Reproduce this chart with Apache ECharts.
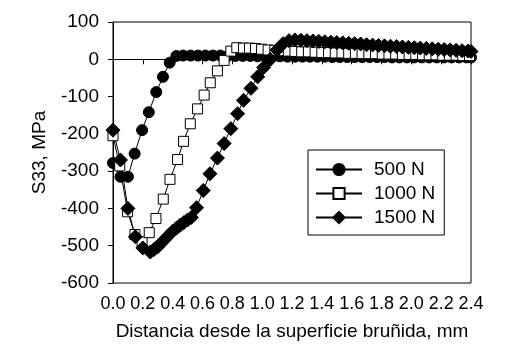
<!DOCTYPE html>
<html>
<head>
<meta charset="utf-8">
<script src="https://cdn.jsdelivr.net/npm/echarts@6/dist/echarts.min.js"></script>
<style>
  html, body { margin: 0; padding: 0; background: #fff; }
  #chart { width: 516px; height: 351px; }
</style>
</head>
<body>
<div id="chart"></div>
<script>
// distance (mm) and S33 (MPa)
var dist500 = [0, 0.05, 0.1, 0.145, 0.195, 0.24, 0.29, 0.335, 0.38, 0.425,
    0.47, 0.52, 0.57, 0.62, 0.67, 0.72, 0.77, 0.82, 0.87, 0.92,
    0.97, 1.02, 1.07, 1.12, 1.17, 1.22, 1.27, 1.32, 1.37, 1.42,
    1.47, 1.52, 1.57, 1.62, 1.67, 1.72, 1.77, 1.82, 1.87, 1.92,
    1.97, 2.02, 2.07, 2.12, 2.17, 2.22, 2.27, 2.32, 2.37, 2.4];
var s500 = [-278, -315, -315, -253, -190, -142, -88, -47, -9, 9,
    10, 10, 10, 10, 10, 10, 9, 9, 9, 9,
    8, 8, 8, 8, 7, 7, 7, 7, 7, 7,
    6, 6, 6, 6, 6, 6, 6, 6, 5, 5,
    5, 5, 5, 5, 5, 5, 5, 5, 5, 5];

var dist1000 = [0, 0.045, 0.098, 0.147, 0.195, 0.243, 0.288, 0.337, 0.382, 0.433,
    0.473, 0.518, 0.567, 0.611, 0.652, 0.7, 0.745, 0.79, 0.83, 0.875,
    0.915, 0.955, 0.996, 1.04, 1.085, 1.13, 1.175, 1.22, 1.265, 1.31,
    1.355, 1.4, 1.445, 1.49, 1.535, 1.58, 1.625, 1.67, 1.715, 1.76,
    1.805, 1.85, 1.895, 1.94, 1.985, 2.03, 2.075, 2.12, 2.165, 2.21,
    2.255, 2.3, 2.345, 2.39];
var s1000 = [-205, -286, -409, -470, -490, -465, -427, -375, -322, -269,
    -220, -173, -133, -96, -63, -31, -3, 22, 31, 30,
    30, 29, 27, 25, 24, 23, 22, 21, 20, 20,
    19, 18, 18, 17, 17, 16, 16, 15, 15, 15,
    14, 14, 14, 13, 13, 13, 12, 12, 12, 11,
    11, 11, 10, 10];

var dist1500 = [0, 0.05, 0.1, 0.15, 0.2, 0.25, 0.275, 0.3, 0.325, 0.35,
    0.375, 0.4, 0.425, 0.45, 0.475, 0.5, 0.525, 0.56, 0.605, 0.65,
    0.7, 0.745, 0.79, 0.835, 0.875, 0.925, 0.97, 1.01, 1.055, 1.1,
    1.14, 1.18, 1.22, 1.26, 1.3, 1.34, 1.38, 1.42, 1.46, 1.5,
    1.54, 1.58, 1.62, 1.66, 1.7, 1.74, 1.78, 1.82, 1.86, 1.9,
    1.94, 1.98, 2.02, 2.06, 2.1, 2.14, 2.18, 2.22, 2.26, 2.3,
    2.34, 2.38, 2.4];
var s1500 = [-190, -270, -400, -476, -506, -517, -510, -503, -492, -482,
    -471, -461, -453, -445, -438, -431, -424, -398, -352, -307,
    -265, -226, -186, -146, -110, -78, -47, -22, 0, 25,
    42, 50, 52, 51, 50, 49, 48, 47, 46, 45,
    44, 43, 42, 41, 39, 38, 37, 36, 35, 34,
    33, 32, 31, 30, 29, 28, 27, 26, 25, 24,
    23, 22, 21];

var seriesNames = ['500 N', '1000 N', '1500 N'];
var xTicks = [0, 2.4, 0.2];
var yTicks = [-600, 100, 100];

function pairs(xs, ys) {
    var out = [];
    for (var i = 0; i < xs.length; i++) {
        out.push([xs[i], ys[i]]);
    }
    return out;
}

var myChart = echarts.init(document.getElementById('chart'));
var font = 'Liberation Sans, Arial, sans-serif';
var lineSeries = function (name, data, symbol, size, fill) {
    return {
        name: name,
        type: 'line',
        data: data,
        symbol: symbol,
        symbolSize: size,
        lineStyle: { color: '#000', width: 1 },
        itemStyle: { color: fill, borderColor: '#000', borderWidth: 1 },
        emphasis: { disabled: true }
    };
};

var options = {
    animation: false,
    backgroundColor: '#fff',
    grid: {
        left: 113, right: 45, top: 22, bottom: 68,
        show: true, borderColor: '#000', borderWidth: 1
    },
    legend: {
        orient: 'vertical',
        left: 308, top: 150,
        data: seriesNames,
        itemWidth: 46, itemHeight: 14, itemGap: 5,
        padding: [10, 9, 8, 7],
        borderColor: '#000', borderWidth: 1,
        backgroundColor: '#fff',
        textStyle: { fontFamily: font, fontSize: 19, color: '#000', lineHeight: 19, padding: [0, 0, 0, 7] }
    },
    xAxis: {
        type: 'value',
        min: xTicks[0], max: xTicks[1], interval: xTicks[2],
        name: 'Distancia desde la superficie bruñida, mm',
        nameLocation: 'middle', nameGap: 39,
        nameTextStyle: { fontFamily: font, fontSize: 19, color: '#000' },
        axisLine: { lineStyle: { color: '#000', width: 1 } },
        axisTick: { show: true, inside: false, length: 5, lineStyle: { color: '#000' } },
        axisLabel: {
            margin: 12, fontFamily: font, fontSize: 18, color: '#000',
            formatter: function (v) { return v.toFixed(1); }
        },
        splitLine: { show: false }
    },
    yAxis: {
        type: 'value',
        min: yTicks[0], max: yTicks[1], interval: yTicks[2],
        name: 'S33, MPa',
        nameLocation: 'middle', nameGap: 64, nameRotate: 90,
        nameTextStyle: { fontFamily: font, fontSize: 19, color: '#000' },
        axisLine: { show: true, lineStyle: { color: '#000', width: 1 } },
        axisTick: { show: true, inside: false, length: 5, lineStyle: { color: '#000' } },
        axisLabel: { margin: 14, fontFamily: font, fontSize: 19, color: '#000' },
        splitLine: { show: false }
    },
    series: [
        lineSeries(seriesNames[0], pairs(dist500, s500), 'circle', 11, '#000'),
        lineSeries(seriesNames[1], pairs(dist1000, s1000), 'rect', 10, '#fff'),
        lineSeries(seriesNames[2], pairs(dist1500, s1500), 'diamond', 14, '#000')
    ]
};
myChart.setOption(options, true);
</script>
</body>
</html>
